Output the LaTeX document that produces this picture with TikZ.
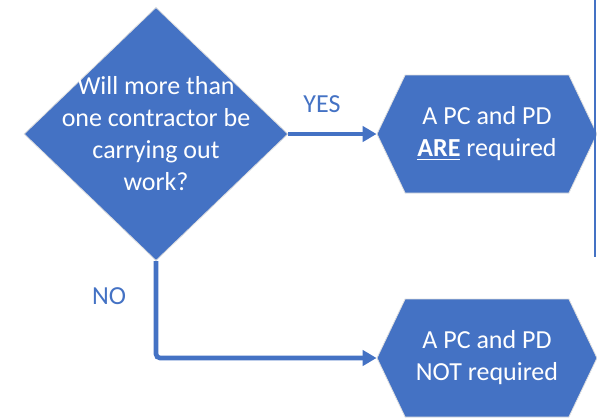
\documentclass[tikz,border=0pt]{standalone}
\usepackage{fontspec}
\setmainfont{Carlito}
\usetikzlibrary{shapes.geometric,shapes.symbols,arrows.meta}
\definecolor{officeblue}{HTML}{4472C4}
\begin{document}
\begin{tikzpicture}[x=0.75pt,y=-0.75pt,
  every node/.style={font=\fontsize{19.5pt}{24pt}\selectfont},
  decision/.style={diamond,fill=officeblue,draw=white!75!gray,line width=0.6pt,
    minimum width=198pt,minimum height=190pt,inner sep=0pt},
  outcome/.style={signal,signal to=west and east,signal pointer angle=129,
    fill=officeblue,draw=white!75!gray,line width=0.6pt,
    minimum width=165pt,minimum height=88.5pt,inner sep=0pt,text=white,align=center},
  flow/.style={officeblue,line width=3.5pt,-{Triangle[length=10.5pt,width=11.5pt]}},
  answer/.style={text=officeblue}]
\useasboundingbox (0,0) rectangle (597,418);
\node (question) [decision] at (156,134) {};
\node (questiontext) [text=white,align=center] at (question.center) {Will more than\\one contractor be\\carrying out\\work?};
\node (required) [outcome] at (487,134) {A PC and PD\\\underline{\textbf{ARE}} required};
\node (notrequired) [outcome] at (487,358) {A PC and PD\\NOT required};
\draw [flow] (question.east) -- (required.west);
\draw [flow,rounded corners=3pt] (question.south) |- (notrequired.west);
\node (yes) [answer] at (322,104) {YES};
\node (no) [answer] at (109,296) {NO};
\coordinate (feedtop) at (595,0);
\coordinate (feedend) at (595,257);
\draw [officeblue,line width=1.5pt] (feedtop) -- (feedend);
\end{tikzpicture}
\end{document}
